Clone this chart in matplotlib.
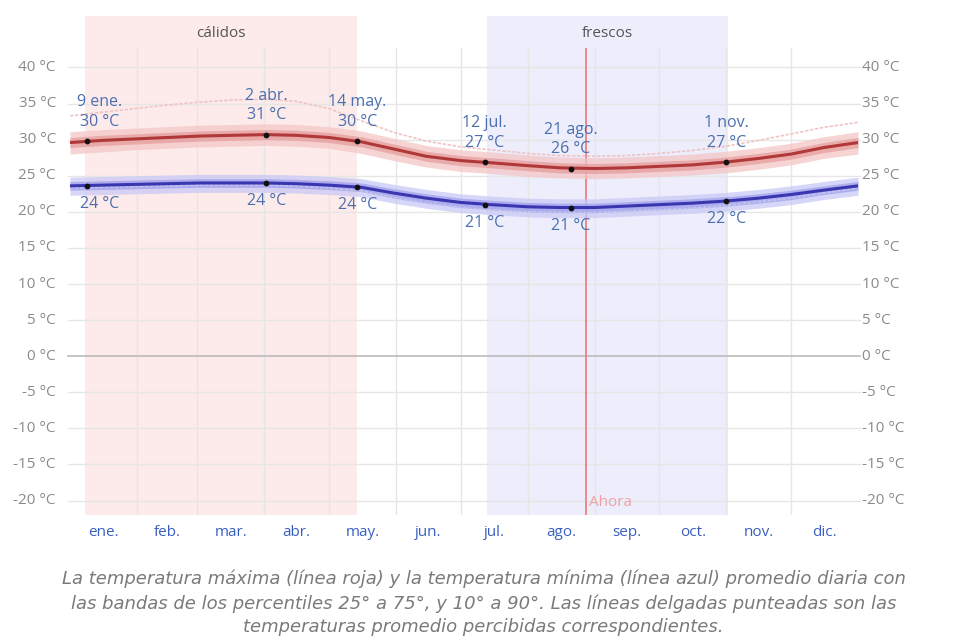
import matplotlib
matplotlib.use('Agg')
import matplotlib.pyplot as plt
import matplotlib.transforms as mtransforms
from matplotlib.patches import Rectangle

plt.rcParams['font.family'] = ['Open Sans', 'DejaVu Sans']

days = [0, 15, 30, 45, 60, 75, 91, 105, 120, 135, 150, 165, 181,
        195, 212, 227, 243, 258, 273, 288, 304, 319, 334, 349, 365]

# average daily high / low (degC)
t_max = [29.6, 29.9, 30.1, 30.3, 30.5, 30.6, 30.7, 30.6, 30.3, 29.7, 28.7, 27.7, 27.1,
         26.8, 26.4, 26.1, 26.0, 26.1, 26.3, 26.5, 26.9, 27.4, 28.0, 28.9, 29.6]
t_min = [23.6, 23.7, 23.8, 23.9, 24.0, 24.0, 24.0, 23.9, 23.7, 23.4, 22.6, 21.9, 21.3,
         21.0, 20.7, 20.6, 20.6, 20.8, 21.0, 21.2, 21.5, 21.9, 22.4, 23.0, 23.6]

# percentile bands
max_p10 = [28.0, 28.3, 28.6, 28.8, 29.0, 29.1, 29.2, 29.1, 28.8, 28.1, 27.1, 26.2, 25.6,
           25.3, 24.9, 24.7, 24.6, 24.7, 24.9, 25.1, 25.4, 25.9, 26.5, 27.4, 28.0]
max_p25 = [28.9, 29.2, 29.4, 29.6, 29.8, 29.9, 30.0, 29.9, 29.6, 29.0, 28.0, 27.0, 26.4,
           26.1, 25.7, 25.4, 25.3, 25.4, 25.6, 25.8, 26.2, 26.7, 27.3, 28.2, 28.9]
max_p75 = [30.3, 30.6, 30.8, 31.0, 31.2, 31.3, 31.4, 31.3, 31.0, 30.4, 29.4, 28.4, 27.8,
           27.5, 27.1, 26.8, 26.7, 26.8, 27.0, 27.2, 27.6, 28.1, 28.7, 29.6, 30.3]
max_p90 = [31.1, 31.4, 31.6, 31.8, 32.0, 32.1, 32.2, 32.1, 31.8, 31.2, 30.2, 29.2, 28.6,
           28.3, 27.9, 27.6, 27.5, 27.6, 27.8, 28.0, 28.4, 28.9, 29.5, 30.4, 31.1]

min_p10 = [22.3, 22.4, 22.5, 22.6, 22.7, 22.7, 22.7, 22.6, 22.4, 22.1, 21.2, 20.5, 19.9,
           19.6, 19.3, 19.2, 19.2, 19.4, 19.6, 19.8, 20.1, 20.5, 21.0, 21.7, 22.3]
min_p25 = [23.0, 23.1, 23.2, 23.3, 23.4, 23.4, 23.4, 23.3, 23.1, 22.8, 21.9, 21.2, 20.6,
           20.3, 20.0, 19.9, 19.9, 20.1, 20.3, 20.5, 20.8, 21.2, 21.7, 22.4, 23.0]
min_p75 = [24.2, 24.3, 24.4, 24.5, 24.6, 24.6, 24.6, 24.5, 24.3, 24.0, 23.2, 22.5, 21.9,
           21.6, 21.3, 21.2, 21.2, 21.4, 21.6, 21.8, 22.1, 22.5, 23.0, 23.6, 24.2]
min_p90 = [24.8, 24.9, 25.0, 25.1, 25.2, 25.2, 25.2, 25.1, 24.9, 24.6, 23.8, 23.1, 22.5,
           22.2, 21.9, 21.8, 21.8, 22.0, 22.2, 22.4, 22.7, 23.1, 23.6, 24.2, 24.8]

# perceived temperatures (thin dotted lines)
feel_max = [33.3, 33.8, 34.3, 34.8, 35.2, 35.5, 35.6, 35.3, 34.3, 32.6, 31.0, 29.8, 29.0,
            28.6, 28.1, 27.8, 27.7, 27.8, 28.1, 28.5, 29.1, 29.9, 30.8, 31.7, 32.4]
feel_min = [23.3, 23.4, 23.5, 23.6, 23.7, 23.7, 23.7, 23.6, 23.3, 22.9, 22.0, 21.2, 20.6,
            20.3, 20.0, 19.9, 19.9, 20.1, 20.3, 20.5, 20.9, 21.4, 21.9, 22.6, 23.3]

# labelled extremes
hi_days = [8, 91, 133, 192, 232, 304]
hi_vals = [29.8, 30.7, 29.8, 26.9, 26.0, 26.9]
hi_dates = ['9 ene.', '2 abr.', '14 may.', '12 jul.', '21 ago.', '1 nov.']
hi_text = ['30 °C', '31 °C', '30 °C', '27 °C', '26 °C', '27 °C']
lo_days = [8, 91, 133, 192, 232, 304]
lo_vals = [23.6, 24.0, 23.4, 21.0, 20.6, 21.5]
lo_text = ['24 °C', '24 °C', '24 °C', '21 °C', '21 °C', '22 °C']

# seasons and "now"
warm_season = (7, 133)
cool_season = (193, 305)
now_day = 239

month_starts = [0, 31, 59, 90, 120, 151, 181, 212, 243, 273, 304, 334, 365]
month_names = ['ene.', 'feb.', 'mar.', 'abr.', 'may.', 'jun.', 'jul.', 'ago.',
               'sep.', 'oct.', 'nov.', 'dic.']
y_ticks = [40, 35, 30, 25, 20, 15, 10, 5, 0, -5, -10, -15, -20]

caption = ('La temperatura máxima (línea roja) y la temperatura mínima (línea azul) promedio diaria con\n'
           'las bandas de los percentiles 25° a 75°, y 10° a 90°. Las líneas delgadas punteadas son las\n'
           'temperaturas promedio percibidas correspondientes.')

W, H = 967, 636
fig = plt.figure(figsize=(W / 100, H / 100), dpi=100)
ax = fig.add_axes([70 / W, (H - 515) / H, 788 / W, 467 / H])
ax.set_xlim(0, 365)
ax.set_ylim(-22.0, 42.7)
for s in ax.spines.values():
    s.set_visible(False)
ax.set_xticks([])
ax.set_yticks([])

text_blue = '#4a6fb0'
grid_col = '#e6e6e6'

# season shading, reaching above the plot for the labels
trans = mtransforms.blended_transform_factory(ax.transData, ax.transAxes)
for (a, b), col, name in [(warm_season, '#fdeaea', 'cálidos'),
                          (cool_season, '#ededfc', 'frescos')]:
    ax.add_patch(Rectangle((a, 0), b - a, 1.0685, transform=trans, color=col,
                           clip_on=False, zorder=0, lw=0))
    ax.text((a + b) / 2, 1.03, name, transform=trans, ha='center', va='center',
            fontsize=11, color='#555555')

# grid
for m in month_starts[1:-1]:
    ax.axvline(m, color=grid_col, lw=1, zorder=1)
for t in y_ticks:
    ax.axhline(t, color='#bbbbbb' if t == 0 else grid_col, lw=1.2 if t == 0 else 1, zorder=1,
               xmin=-0.003, xmax=1.003, clip_on=False)
    ax.text(-0.018, t, f'{t} °C', transform=ax.get_yaxis_transform(), ha='right',
            va='center', fontsize=11, color='#8a8a8a')
    ax.text(1.005, t, f'{t} °C', transform=ax.get_yaxis_transform(), ha='left',
            va='center', fontsize=11, color='#8a8a8a')

# month labels
for i, name in enumerate(month_names):
    ax.text((month_starts[i] + month_starts[i + 1]) / 2, -0.038, name, transform=trans,
            ha='center', va='center', fontsize=11, color='#3a5fc0')

# now line
ax.axvline(now_day, color='#f08080', lw=1.3, zorder=2)
ax.text(now_day + 1.2, -20.3, 'Ahora', ha='left', va='center', fontsize=11, color='#f2a0a0')

# bands and lines
ax.fill_between(days, max_p10, max_p90, color='#f4c6c6', alpha=0.75, lw=0, zorder=3)
ax.fill_between(days, max_p25, max_p75, color='#e59a9a', alpha=0.7, lw=0, zorder=3)
ax.fill_between(days, min_p10, min_p90, color='#c9c9f6', alpha=0.75, lw=0, zorder=3)
ax.fill_between(days, min_p25, min_p75, color='#9c9cec', alpha=0.7, lw=0, zorder=3)
ax.plot(days, feel_max, color='#efc4c4', lw=1.2, ls=(0, (2, 1)), zorder=3)
ax.plot(days, feel_min, color='#c4c4f0', lw=1.2, ls=(0, (2, 1)), zorder=3)
ax.plot(days, t_max, color='#b03838', lw=2.2, zorder=4)
ax.plot(days, t_min, color='#3a36b0', lw=2.2, zorder=4)

# labelled points
ax.scatter(hi_days, hi_vals, s=10, color='#111111', zorder=5)
ax.scatter(lo_days, lo_vals, s=10, color='#111111', zorder=5)
for d, v, ds, vs in zip(hi_days, hi_vals, hi_dates, hi_text):
    dx = 9 if d < 20 else 0
    ax.annotate(vs, (d, v), xytext=(dx, 14), textcoords='offset points', ha='center',
                va='center', fontsize=11.5, color=text_blue, zorder=6)
    ax.annotate(ds, (d, v), xytext=(dx, 28), textcoords='offset points', ha='center',
                va='center', fontsize=11.5, color=text_blue, zorder=6)
for d, v, vs in zip(lo_days, lo_vals, lo_text):
    dx = 9 if d < 20 else 0
    ax.annotate(vs, (d, v), xytext=(dx, -13), textcoords='offset points', ha='center',
                va='center', fontsize=11.5, color=text_blue, zorder=6)

fig.text(0.5, 1 - 603 / H, caption, ha='center', va='center', fontsize=13,
         family=['DejaVu Sans'], style='italic', color='#7a7a7a', linespacing=1.4)

fig.savefig('out.png', dpi=100)
